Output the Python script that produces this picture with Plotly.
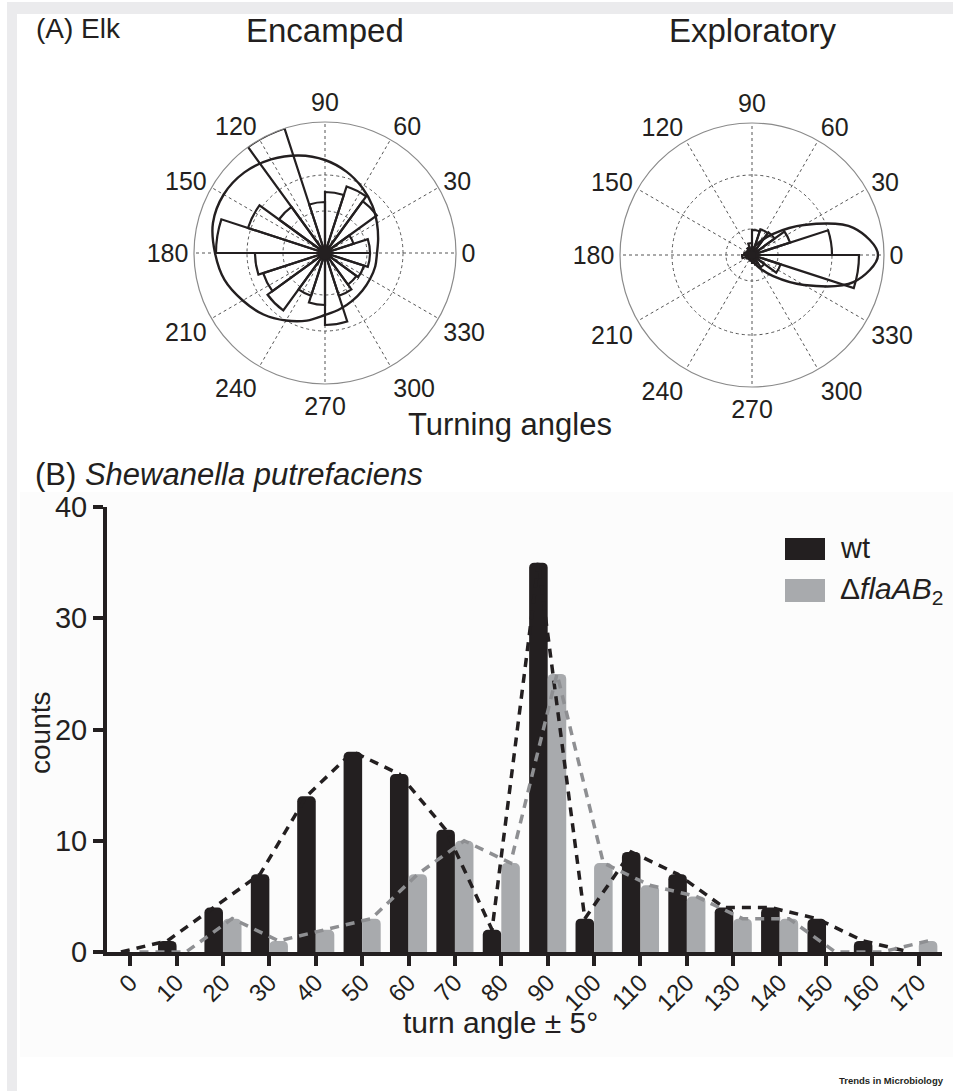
import plotly.graph_objects as go

# ---------------- data ----------------
# (A) Elk: rose histograms, 20 bins of 18 degrees (bin start angles)
rose_bin_start = list(range(0, 360, 18))
encamped_counts = [45, 30, 64, 70, 61, 51, 131, 57, 81, 109,
                   70, 65, 71, 45, 52, 72, 45, 39, 41, 45]
exploratory_counts = [80, 40, 28, 27, 25, 12, 8, 6, 6, 8,
                      10, 6, 5, 5, 6, 8, 10, 15, 30, 107]
# fitted circular densities (sampled read-offs)
fit_angles = [0, 15, 30, 45, 60, 75, 90, 105, 120, 135, 150, 165, 180,
              195, 210, 225, 240, 255, 270, 285, 300, 315, 330, 345, 360]
encamped_fit = [52, 55, 60, 67, 75, 84, 93, 101, 108, 114, 117, 116, 110,
                104, 95, 87, 78, 70, 62, 58, 55, 53, 52, 52, 52]
exploratory_fit = [126, 105, 60, 30, 15, 8, 5, 4, 3, 3, 3, 3, 3,
                   3, 3, 3, 3, 4, 5, 8, 15, 30, 60, 105, 126]
ring_values_encamped = [42, 78]
ring_values_exploratory = [26, 80]
outer_encamped = 131
outer_exploratory = 132
angle_ticks = list(range(0, 360, 30))

# (B) Shewanella putrefaciens
turn_angles = list(range(0, 180, 10))
wt_counts = [0, 1, 4, 7, 14, 18, 16, 11, 2, 35, 3, 9, 7, 4, 4, 3, 1, 0]
mut_counts = [0, 0, 3, 1, 2, 3, 7, 10, 8, 25, 8, 6, 5, 3, 3, 0, 0, 1]
y_ticks = [0, 10, 20, 30, 40]

W, H = 953, 1091
INK = "#231f20"
BAR_GRAY = "#a8aaad"
LINE_GRAY = "#8e8f92"
GRID = "#555555"
FONT = "Liberation Sans, Arial, Helvetica, sans-serif"
NARROW = "Liberation Sans Narrow, Arial Narrow, Liberation Sans, sans-serif"


def px_x(v):
    return v / W


def px_y(v):
    return 1 - v / H


fig = go.Figure()

# ---- polar panels ----
for counts, fit, sub in [(encamped_counts, encamped_fit, "polar"),
                         (exploratory_counts, exploratory_fit, "polar2")]:
    fig.add_trace(go.Barpolar(
        r=counts, theta=[a + 9 for a in rose_bin_start], width=[18] * len(counts),
        marker=dict(color="rgba(255,255,255,0)", line=dict(color=INK, width=2.2)),
        subplot=sub, showlegend=False, hoverinfo="skip"))
    fig.add_trace(go.Scatterpolar(
        r=fit, theta=fit_angles, mode="lines",
        line=dict(color=INK, width=2.4, shape="spline", smoothing=1.0),
        subplot=sub, showlegend=False, hoverinfo="skip"))
    fig.add_trace(go.Scatterpolar(
        r=[0], theta=[0], mode="markers", marker=dict(color=INK, size=13 if sub == "polar" else 8),
        subplot=sub, showlegend=False, hoverinfo="skip"))


def polar_layout(cx, cy, R, rings, outer):
    return dict(
        domain=dict(x=[px_x(cx - R), px_x(cx + R)], y=[px_y(cy + R), px_y(cy - R)]),
        bgcolor="rgba(0,0,0,0)",
        radialaxis=dict(range=[0, outer], tickvals=rings, showticklabels=False,
                        ticks="", showline=False, gridcolor=GRID, griddash="dot",
                        gridwidth=1.2),
        angularaxis=dict(tickvals=angle_ticks, ticktext=[str(a) for a in angle_ticks],
                         direction="counterclockwise", rotation=0,
                         showline=True, linecolor="#8a8a8a", linewidth=1.2,
                         gridcolor=GRID, griddash="dot", gridwidth=1.2,
                         ticks="", tickfont=dict(size=25, color=INK, family=FONT)),
    )


# ---- bar chart ----
fig.add_trace(go.Bar(x=turn_angles, y=wt_counts, name="wt", offsetgroup="wt",
                     marker=dict(color=INK, cornerradius=5, line=dict(width=0)),
                     showlegend=False))
fig.add_trace(go.Bar(x=turn_angles, y=mut_counts, name="ΔflaAB2", offsetgroup="mut",
                     marker=dict(color=BAR_GRAY, cornerradius=5, line=dict(width=0)),
                     showlegend=False))
fig.add_trace(go.Scatter(x=turn_angles, y=wt_counts, mode="lines", offsetgroup="wt",
                         line=dict(color=INK, width=3.5, dash="9px,7px"), showlegend=False))
fig.add_trace(go.Scatter(x=turn_angles, y=mut_counts, mode="lines", offsetgroup="mut",
                         line=dict(color=LINE_GRAY, width=3.5, dash="9px,7px"), showlegend=False))

shapes = [
    # page frame strips
    dict(type="rect", xref="paper", yref="paper", x0=px_x(7), x1=1, y0=px_y(14), y1=px_y(2),
         fillcolor="#ebebed", line=dict(width=0), layer="below"),
    dict(type="rect", xref="paper", yref="paper", x0=px_x(7), x1=px_x(17), y0=0, y1=px_y(2),
         fillcolor="#ebebed", line=dict(width=0), layer="below"),
    dict(type="rect", xref="paper", yref="paper", x0=px_x(20), x1=1, y0=px_y(1057), y1=px_y(492),
         fillcolor="#fcfcfc", line=dict(width=0), layer="below"),
    # legend swatches
    dict(type="rect", xref="paper", yref="paper", x0=px_x(785), x1=px_x(825), y0=px_y(560), y1=px_y(538),
         fillcolor=INK, line=dict(width=0)),
    dict(type="rect", xref="paper", yref="paper", x0=px_x(785), x1=px_x(825), y0=px_y(602), y1=px_y(579),
         fillcolor=BAR_GRAY, line=dict(width=0)),
]


def ann(text, x, y, size, xanchor="left", yanchor="middle", family=FONT, **kw):
    return dict(text=text, x=px_x(x), y=px_y(y), xref="paper", yref="paper", showarrow=False,
                xanchor=xanchor, yanchor=yanchor, font=dict(size=size, color=INK, family=family), **kw)


annotations = [
    ann("(A) Elk", 34, 28, 28),
    ann("Encamped", 325, 31, 33, xanchor="center"),
    ann("Exploratory", 752, 31, 33, xanchor="center"),
    ann("Turning angles", 510, 424, 31, xanchor="center"),
    ann("(B) <i>Shewanella putrefaciens</i>", 33, 474, 31),
    ann("wt", 838, 548, 29),
    ann("Δ<i>flaAB</i><sub>2</sub>", 838, 590, 30),
    ann("counts", 40, 733, 28, xanchor="center", textangle=-90),
    ann("turn angle ± 5°", 501, 1022, 30, xanchor="center"),
    ann("<b>Trends in Microbiology</b>", 946, 1080, 9.5, xanchor="right", family=NARROW),
]

fig.update_layout(
    width=W, height=H, margin=dict(l=0, r=0, t=0, b=0, autoexpand=False),
    paper_bgcolor="white", plot_bgcolor="rgba(0,0,0,0)",
    font=dict(family=FONT, color=INK),
    polar=polar_layout(325, 253, outer_encamped, ring_values_encamped, outer_encamped),
    polar2=polar_layout(752, 255, outer_exploratory, ring_values_exploratory, outer_exploratory),
    barmode="group", bargap=0.2, bargroupgap=0, scattermode="group", scattergap=0.2,
    xaxis=dict(domain=[px_x(107), px_x(942)], range=[-5, 175], tickvals=turn_angles,
               tickangle=-45, ticks="outside", ticklen=10, tickwidth=4, tickcolor=INK,
               showline=True, linewidth=4, linecolor=INK, showgrid=False, zeroline=False,
               automargin=False, ticklabelstandoff=-7, tickfont=dict(size=24, color=INK)),
    yaxis=dict(domain=[px_y(952), px_y(507)], range=[0, 40], tickvals=y_ticks,
               ticks="outside", ticklen=10, tickwidth=4, tickcolor=INK,
               showline=True, linewidth=4, linecolor=INK, showgrid=False, zeroline=False,
               automargin=False, tickfont=dict(size=29, color=INK)),
    shapes=shapes, annotations=annotations,
)

fig.write_html("out.html")
